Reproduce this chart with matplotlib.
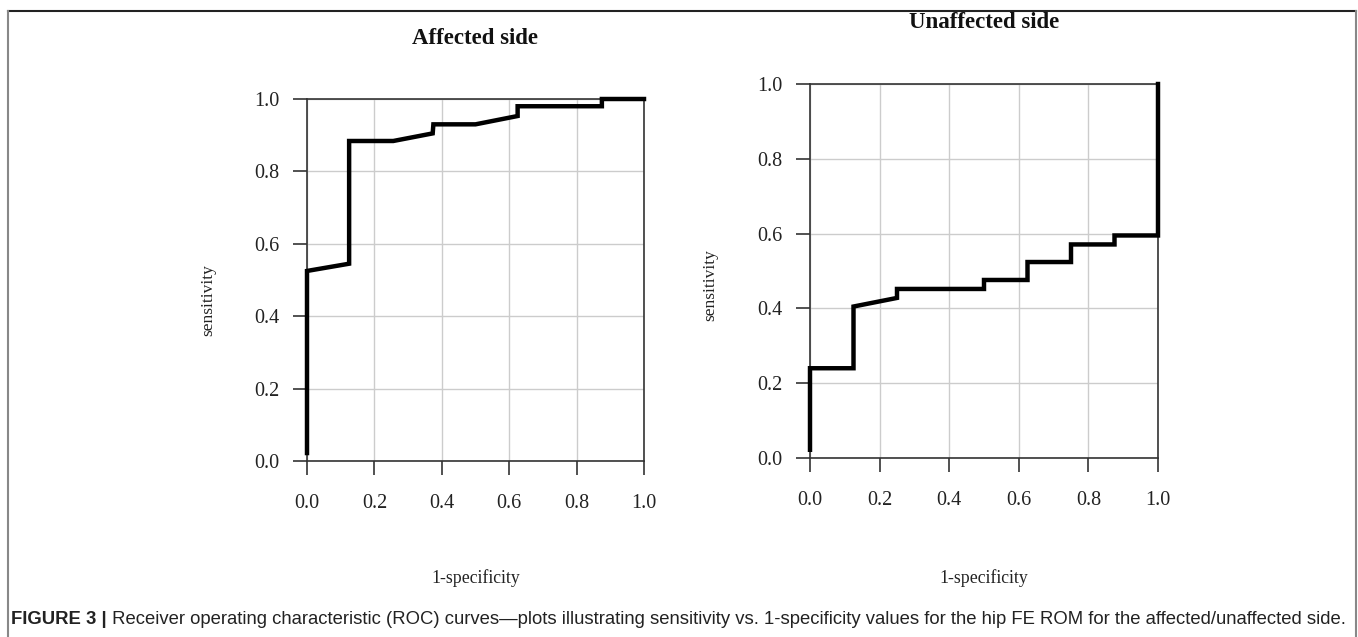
import matplotlib
matplotlib.use("Agg")
import matplotlib.pyplot as plt
from matplotlib.lines import Line2D

# ---- data ----
affected_fpr = [0.0, 0.0, 0.125, 0.125, 0.256, 0.373, 0.375, 0.5, 0.625, 0.625, 0.875, 0.875, 1.0]
affected_tpr = [0.022, 0.525, 0.545, 0.884, 0.884, 0.905, 0.930, 0.930, 0.953, 0.980, 0.980, 1.0, 1.0]

unaffected_fpr = [0.0, 0.0, 0.125, 0.125, 0.25, 0.25, 0.5, 0.5, 0.625, 0.625, 0.75, 0.75, 0.875, 0.875, 1.0, 1.0]
unaffected_tpr = [0.022, 0.240, 0.240, 0.405, 0.428, 0.452, 0.452, 0.476, 0.476, 0.524, 0.524, 0.571, 0.571, 0.595, 0.595, 1.0]

ticks = [0.0, 0.2, 0.4, 0.6, 0.8, 1.0]
tick_labels = ["0.0", "0.2", "0.4", "0.6", "0.8", "1.0"]
titles = ["Affected side", "Unaffected side"]
xlabel = "1-specificity"
ylabel = "sensitivity"
caption_bold = "FIGURE 3 |"
caption_rest = (" Receiver operating characteristic (ROC) curves\u2014plots illustrating sensitivity "
                "vs. 1-specificity values for the hip FE ROM for the affected/unaffected side.")

W, H = 1358, 637
fig = plt.figure(figsize=(W / 100, H / 100), dpi=100)
fig.patch.set_facecolor("white")

def fx(px):
    return px / W

def fy(py):
    return 1 - py / H

serif = ["Liberation Serif", "DejaVu Serif"]

panels = [
    dict(fpr=affected_fpr, tpr=affected_tpr, box=(307, 644, 99, 461),
         title_y=39, ylab_x=208, ylab_y=300),
    dict(fpr=unaffected_fpr, tpr=unaffected_tpr, box=(810, 1158, 84, 458),
         title_y=23, ylab_x=710, ylab_y=285),
]

for p, title in zip(panels, titles):
    x0, x1, yt, yb = p["box"]
    ax = fig.add_axes([fx(x0), fy(yb), fx(x1) - fx(x0), fy(yt) - fy(yb)])
    ax.plot(p["fpr"], p["tpr"], color="black", lw=3.2, solid_joinstyle="miter", zorder=3, clip_on=False)
    ax.set_xlim(0, 1)
    ax.set_ylim(0, 1)
    ax.set_xticks(ticks)
    ax.set_yticks(ticks)
    ax.set_xticklabels(tick_labels, fontfamily=serif, fontsize=14.5, color="#222222")
    ax.set_yticklabels(tick_labels, fontfamily=serif, fontsize=14.5, color="#222222")
    ax.tick_params(direction="out", length=10, width=1.2, color="#333333")
    ax.tick_params(axis="x", pad=14)
    ax.tick_params(axis="y", pad=10)
    ax.grid(True, color="#cccccc", lw=1.0)
    ax.set_axisbelow(True)
    for s in ax.spines.values():
        s.set_color("#333333")
        s.set_linewidth(1.2)
    cx = (x0 + x1) / 2
    fig.text(fx(cx), fy(p["title_y"]), title, ha="center", va="center",
             fontfamily=serif, fontweight="bold", fontsize=16.5, color="#111111")
    fig.text(fx(p["ylab_x"]), fy(p["ylab_y"]), ylabel, ha="center", va="center",
             rotation=90, fontfamily=serif, fontsize=12.5, color="#222222")
    fig.text(fx(cx), fy(578), xlabel, ha="center", va="center",
             fontfamily=serif, fontsize=12.8, color="#222222")

# figure frame
fig.add_artist(Line2D([fx(8), fx(1356)], [fy(10.5), fy(10.5)], transform=fig.transFigure, color="#222222", lw=1.5))
fig.add_artist(Line2D([fx(8), fx(8)], [fy(10.5), fy(637)], transform=fig.transFigure, color="#888888", lw=1.5))
fig.add_artist(Line2D([fx(1356), fx(1356)], [fy(10.5), fy(637)], transform=fig.transFigure, color="#888888", lw=1.5))

# caption
cap_font = ["Liberation Sans", "DejaVu Sans"]
t1 = fig.text(fx(11), fy(620), caption_bold, ha="left", va="center",
              fontfamily=cap_font, fontweight="bold", fontsize=13.3, color="#222222")
fig.canvas.draw()
bb = t1.get_window_extent(renderer=fig.canvas.get_renderer())
fig.text(bb.x1 / W, fy(620), caption_rest, ha="left", va="center",
         fontfamily=cap_font, fontsize=13.3, color="#222222")

fig.savefig("out.png", dpi=100, facecolor="white")
